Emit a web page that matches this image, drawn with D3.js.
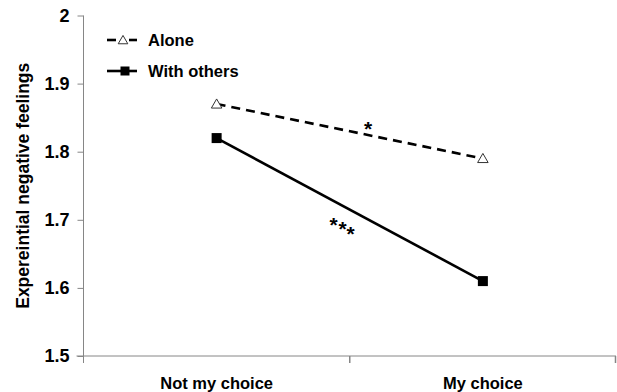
<!DOCTYPE html>
<html>
<head>
<meta charset="utf-8">
<script src="https://cdn.jsdelivr.net/npm/d3@7"></script>
<style>
  html, body { margin: 0; padding: 0; background: #fff; }
  svg { display: block; font-family: "Liberation Sans", Arial, sans-serif; }
</style>
</head>
<body>
<svg id="chart" width="617" height="392"></svg>
<script>
// Conditions on the x axis
const categories = ["Not my choice", "My choice"];
// Mean experiential negative feelings per condition
const aloneValues = [1.87, 1.79];
const withOthersValues = [1.82, 1.61];
const seriesNames = ["Alone", "With others"];
// Y axis ticks
const yTicks = [1.5, 1.6, 1.7, 1.8, 1.9, 2];
const yTickLabels = ["1.5", "1.6", "1.7", "1.8", "1.9", "2"];
// Significance marks for each slope
const sigMarks = ["*", "***"];

const svg = d3.select("#chart");
const axisColor = "#868686";

const x = d3.scaleBand().domain(categories).range([83.5, 616]);
const y = d3.scaleLinear().domain([1.5, 2]).range([356, 15.5]);
const cx = c => x(c) + x.bandwidth() / 2;

// Y axis
const yAxis = svg.append("g").attr("transform", "translate(83.5,0)")
  .call(d3.axisLeft(y).tickValues(yTicks).tickSize(6).tickPadding(8)
    .tickFormat((d, i) => yTickLabels[i]));
yAxis.select(".domain").attr("stroke", axisColor).attr("d", `M0,${y(2)}V${y(1.5) + 7}`);
yAxis.selectAll(".tick line").attr("stroke", axisColor);
yAxis.selectAll(".tick text").attr("fill", "#000").attr("font-size", 18)
  .attr("font-weight", "bold").attr("font-family", "Liberation Sans, Arial, sans-serif");

// X axis with ticks at band boundaries
const xg = svg.append("g");
xg.append("line").attr("x1", x.range()[0] - 7).attr("x2", x.range()[1])
  .attr("y1", y(1.5)).attr("y2", y(1.5)).attr("stroke", axisColor);
const bounds = categories.map(c => x(c)).concat([x.range()[1]]);
xg.selectAll("line.tk").data(bounds.slice(1)).join("line").attr("class", "tk")
  .attr("x1", d => Math.min(d, 615.5)).attr("x2", d => Math.min(d, 615.5))
  .attr("y1", y(1.5)).attr("y2", y(1.5) + 7).attr("stroke", axisColor).attr("stroke-width", 1.5);
xg.selectAll("text").data(categories).join("text")
  .attr("x", d => cx(d)).attr("y", 388.5).attr("text-anchor", "middle")
  .attr("font-size", 16.5).attr("font-weight", "bold").attr("fill", "#000").text(d => d);

// Y axis title
svg.append("text")
  .attr("transform", `translate(29,${(y(2) + y(1.5)) / 2}) rotate(-90)`)
  .attr("text-anchor", "middle").attr("font-size", 17.5).attr("font-weight", "bold")
  .attr("fill", "#000").text("Expereintial negative feelings");

const line = d3.line().x((d, i) => cx(categories[i])).y(d => y(d));

// Alone: dashed line, open triangles
svg.append("path").datum(aloneValues).attr("d", line).attr("fill", "none")
  .attr("stroke", "#000").attr("stroke-width", 2.6).attr("stroke-dasharray", "9,6");
const tri = d3.symbol().type(d3.symbolTriangle).size(48);
svg.selectAll("path.tri").data(aloneValues).join("path").attr("class", "tri")
  .attr("d", tri).attr("transform", (d, i) => `translate(${cx(categories[i])},${y(d) + 1})`)
  .attr("fill", "#fff").attr("stroke", "#333").attr("stroke-width", 1);

// With others: solid line, filled squares
svg.append("path").datum(withOthersValues).attr("d", line).attr("fill", "none")
  .attr("stroke", "#000").attr("stroke-width", 2.6);
svg.selectAll("rect.sq").data(withOthersValues).join("rect").attr("class", "sq")
  .attr("x", (d, i) => cx(categories[i]) - 5).attr("y", d => y(d) - 5)
  .attr("width", 10).attr("height", 10).attr("fill", "#000");

// Significance asterisks
const starFont = 21, starLift = 12;
const midAlone = (aloneValues[0] + aloneValues[1]) / 2;
svg.append("text").attr("x", 368).attr("y", y(midAlone) - 7 + starLift).attr("text-anchor", "middle")
  .attr("font-size", starFont).attr("font-weight", "bold").attr("fill", "#000").text(sigMarks[0]);
const starPos = [[333.5, 219.5], [342.5, 224], [350.5, 228.5]];
svg.selectAll("text.st").data(sigMarks[1].split("")).join("text").attr("class", "st")
  .attr("x", (d, i) => starPos[i][0]).attr("y", (d, i) => starPos[i][1] + starLift)
  .attr("text-anchor", "middle").attr("font-size", starFont).attr("font-weight", "bold")
  .attr("fill", "#000").text(d => d);

// Legend
const legend = svg.append("g");
const legendY = [40, 71];
seriesNames.forEach((name, i) => {
  const g = legend.append("g").attr("transform", `translate(0,${legendY[i]})`);
  if (i === 0) {
    g.append("line").attr("x1", 107).attr("x2", 116).attr("stroke", "#000").attr("stroke-width", 2.6);
    g.append("line").attr("x1", 129).attr("x2", 137).attr("stroke", "#000").attr("stroke-width", 2.6);
    g.append("path").attr("d", d3.symbol().type(d3.symbolTriangle).size(40))
      .attr("transform", "translate(123,1)").attr("fill", "#fff").attr("stroke", "#333");
  } else {
    g.append("line").attr("x1", 107).attr("x2", 137).attr("stroke", "#000").attr("stroke-width", 2.6);
    g.append("rect").attr("x", 120.5).attr("y", -4.5).attr("width", 9).attr("height", 9).attr("fill", "#000");
  }
  g.append("text").attr("x", 148).attr("y", 5.5).attr("font-size", 16.5).attr("font-weight", "bold")
    .attr("fill", "#000").text(name);
});
</script>
</body>
</html>
